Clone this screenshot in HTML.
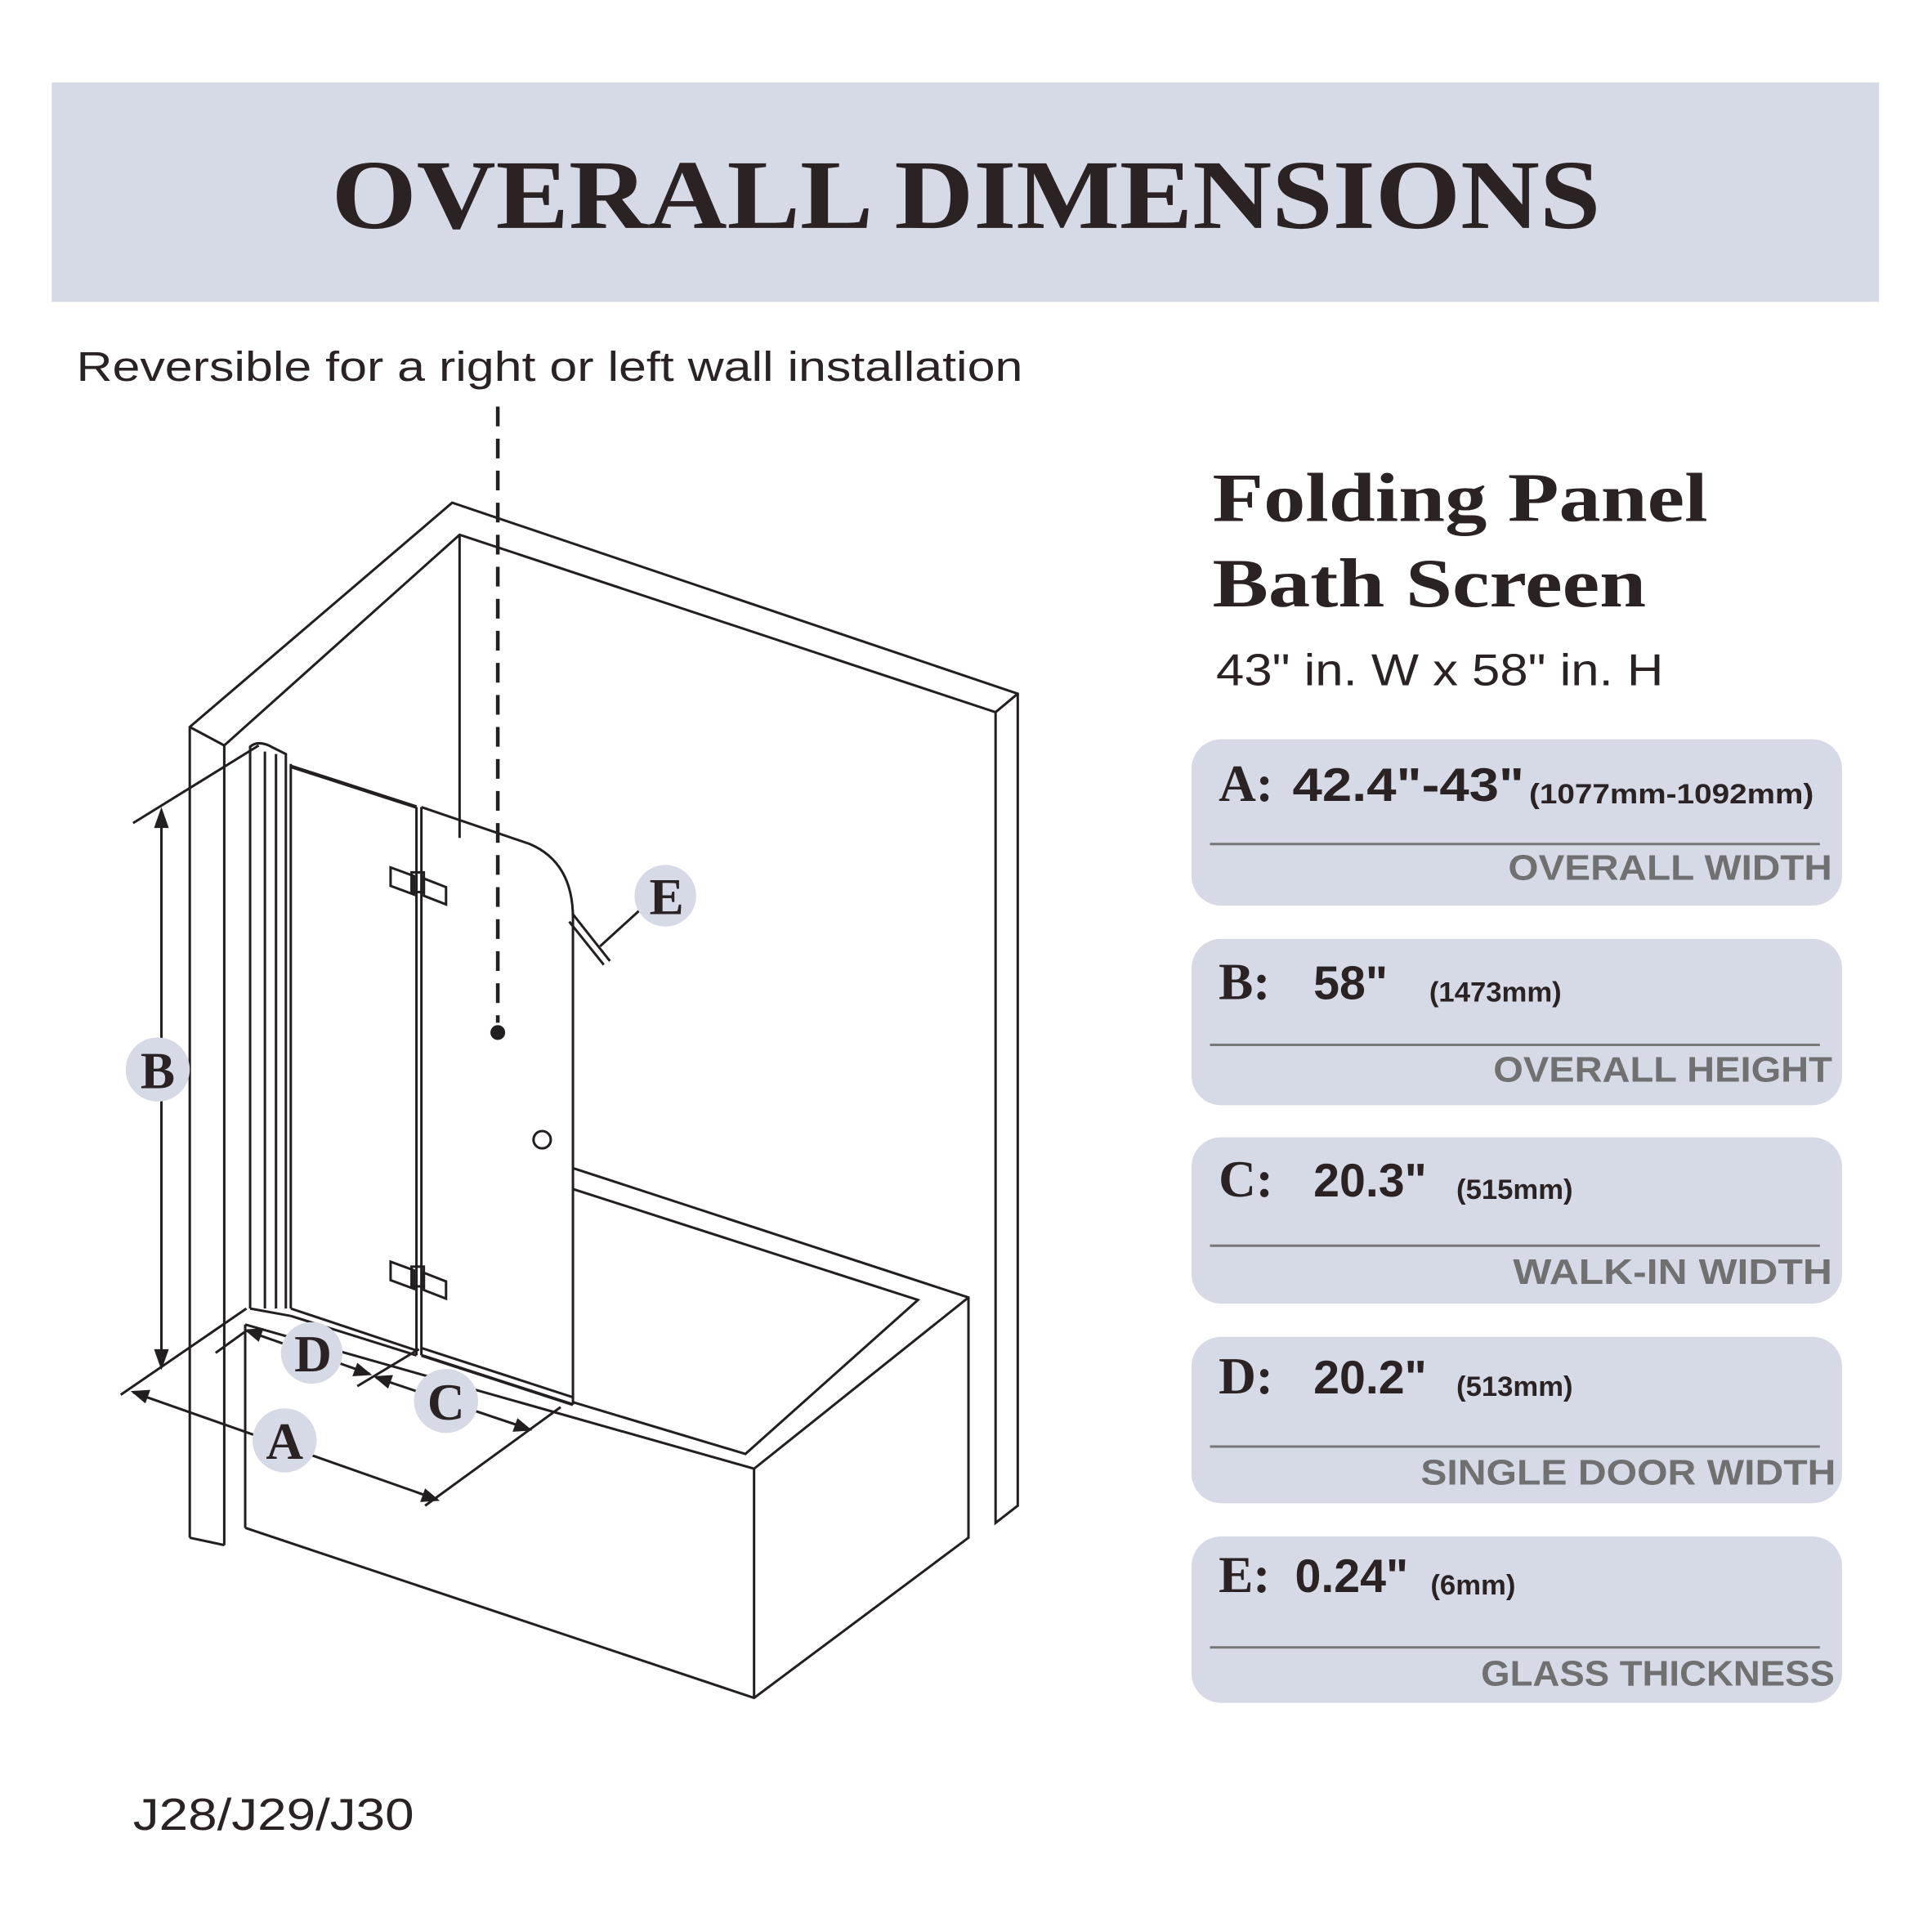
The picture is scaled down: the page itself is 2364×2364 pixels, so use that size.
<!DOCTYPE html>
<html><head><meta charset="utf-8"><style>
html,body{margin:0;padding:0;background:#fff}
svg{display:block}
.sv{font-family:"Liberation Serif",serif;font-weight:bold;fill:#2b2223}
.sn{font-family:"Liberation Sans",sans-serif;fill:#2b2223}
.g{font-family:"Liberation Sans",sans-serif;font-weight:bold;fill:#707070}
</style></head><body>
<svg width="2364" height="2364" viewBox="0 0 1568 1568" xmlns="http://www.w3.org/2000/svg">
<rect x="42" y="67" width="1483" height="178" fill="#d5dae6"/>
<text class="sv" x="784" y="185" font-size="80" text-anchor="middle" textLength="1030" lengthAdjust="spacingAndGlyphs">OVERALL DIMENSIONS</text>
<text class="sn" x="62" y="309" font-size="34" textLength="768" lengthAdjust="spacingAndGlyphs">Reversible for a right or left wall installation</text>

<g fill="none" stroke="#231f20" stroke-width="2">
<!-- walls -->
<polyline points="154,1248 154,590 367,408 826,563 826,1222 808,1236 808,578"/>
<polyline points="182,1254 182,605 373,434 808,578 826,563"/>
<line x1="154" y1="590" x2="182" y2="605"/>
<line x1="154" y1="1248" x2="182" y2="1254"/>
<line x1="373" y1="434" x2="373" y2="680"/>
<!-- tub -->
<polyline points="199,1240 612,1378 786,1248 786,1053 465,948"/>
<polyline points="199,1075 612,1192 786,1053"/>
<line x1="612" y1="1192" x2="612" y2="1378"/>
<line x1="199" y1="1075" x2="199" y2="1240"/>
<polyline points="465,965 745,1055 605,1180 465,1138"/>
<!-- fixed profile -->
<path d="M203,1062 L203,606 Q210,600 222,607 L232,612 L232,1062"/>
<line x1="215" y1="610" x2="215" y2="1062"/>
<line x1="224" y1="612" x2="224" y2="1062"/>
<line x1="236" y1="620" x2="236" y2="1062"/>
<line x1="203" y1="1062" x2="236" y2="1068"/>
<!-- panel 1 -->
<line x1="236" y1="622" x2="338" y2="655" stroke-width="3"/>
<line x1="338" y1="655" x2="338" y2="1100"/>
<line x1="342" y1="655" x2="342" y2="1100"/>
<line x1="236" y1="1062" x2="338" y2="1096"/>
<line x1="236" y1="1068" x2="338" y2="1100"/>
<!-- panel 2 -->
<path d="M342,655 L430,685 Q465,700 465,745 L465,1140"/>
<line x1="342" y1="1100" x2="465" y2="1140" stroke-width="2.5"/>
<line x1="342" y1="1094" x2="465" y2="1134"/>
<!-- hinges -->
<polygon points="317,704 336,711 336,726 317,719"/>
<polygon points="344,713 362,720 362,734 344,727"/>
<rect x="334" y="708" width="10" height="16"/>
<polygon points="317,1024 336,1031 336,1046 317,1039"/>
<polygon points="344,1033 362,1040 362,1054 344,1047"/>
<rect x="334" y="1028" width="10" height="16"/>
<circle cx="440" cy="925" r="7"/>
<!-- dashed -->
<line x1="404" y1="330" x2="404" y2="830" stroke-width="3" stroke-dasharray="16,10"/>
<!-- E leader -->
<line x1="520" y1="738" x2="487" y2="768"/>
<line x1="465" y1="742" x2="495" y2="780"/>
<line x1="462" y1="748" x2="490" y2="783"/>
<!-- B dim -->
<line x1="108" y1="668" x2="210" y2="605"/>
<line x1="98" y1="1132" x2="200" y2="1062"/>
<line x1="131" y1="668" x2="131" y2="1108"/>
<!-- A dim -->
<line x1="108" y1="1130" x2="355" y2="1217"/>
<line x1="345" y1="1222" x2="455" y2="1142"/>
<!-- D dim -->
<line x1="175" y1="1098" x2="200" y2="1080"/>
<line x1="200" y1="1080" x2="300" y2="1115"/>
<line x1="290" y1="1125" x2="340" y2="1095"/>
<!-- C dim -->
<line x1="305" y1="1118" x2="430" y2="1160"/>
</g>
<circle cx="404" cy="838" r="6" fill="#231f20"/>
<g fill="#231f20">
<polygon points="131,655 125,672 137,672"/>
<polygon points="131,1112 125,1095 137,1095"/>
<polygon points="106,1129 122,1128 118,1139"/>
<polygon points="357,1218 341,1219 345,1208"/>
<polygon points="198,1079 214,1078 210,1089"/>
<polygon points="302,1116 286,1117 290,1106"/>
<polygon points="303,1117 319,1116 315,1127"/>
<polygon points="432,1161 416,1162 420,1151"/>
</g>
<g fill="#d5dae6">
<circle cx="128" cy="868" r="26"/><circle cx="540" cy="727" r="25"/>
<circle cx="231" cy="1169" r="26"/><circle cx="253" cy="1098" r="25"/><circle cx="362" cy="1137" r="26"/>
</g>
<g class="sv" font-size="42" text-anchor="middle">
<text x="128" y="883">B</text><text x="541" y="742">E</text><text x="231" y="1184">A</text><text x="254" y="1113">D</text><text x="362" y="1152">C</text>
</g>

<text class="sv" x="984" y="423" font-size="56" textLength="402" lengthAdjust="spacingAndGlyphs">Folding Panel</text>
<text class="sv" x="984" y="492" font-size="56" textLength="352" lengthAdjust="spacingAndGlyphs">Bath Screen</text>
<text class="sn" x="987" y="556" font-size="36" textLength="363" lengthAdjust="spacingAndGlyphs">43" in. W x 58" in. H</text>

<g>
<rect x="967" y="600" width="528" height="135" rx="24" fill="#d5dae6"/>
<line x1="982" y1="685" x2="1477" y2="685" stroke="#777" stroke-width="2"/>
<text class="sv" x="989" y="650" font-size="42">A:</text>
<text class="sn" x="1049" y="650" font-size="38" font-weight="bold" textLength="188" lengthAdjust="spacingAndGlyphs">42.4"-43"</text>
<text class="sn" x="1241" y="652" font-size="23" font-weight="bold" textLength="231" lengthAdjust="spacingAndGlyphs">(1077mm-1092mm)</text>
<text class="g" x="1487" y="714" font-size="29" text-anchor="end" textLength="263" lengthAdjust="spacingAndGlyphs">OVERALL WIDTH</text>

<rect x="967" y="762" width="528" height="135" rx="24" fill="#d5dae6"/>
<line x1="982" y1="848" x2="1477" y2="848" stroke="#777" stroke-width="2"/>
<text class="sv" x="989" y="811" font-size="42">B:</text>
<text class="sn" x="1066" y="811" font-size="38" font-weight="bold">58"</text>
<text class="sn" x="1160" y="813" font-size="23" font-weight="bold">(1473mm)</text>
<text class="g" x="1487" y="878" font-size="29" text-anchor="end" textLength="275" lengthAdjust="spacingAndGlyphs">OVERALL HEIGHT</text>

<rect x="967" y="923" width="528" height="135" rx="24" fill="#d5dae6"/>
<line x1="982" y1="1011" x2="1477" y2="1011" stroke="#777" stroke-width="2"/>
<text class="sv" x="989" y="971" font-size="42">C:</text>
<text class="sn" x="1066" y="971" font-size="38" font-weight="bold">20.3"</text>
<text class="sn" x="1182" y="973" font-size="23" font-weight="bold">(515mm)</text>
<text class="g" x="1487" y="1042" font-size="29" text-anchor="end" textLength="259" lengthAdjust="spacingAndGlyphs">WALK-IN WIDTH</text>

<rect x="967" y="1085" width="528" height="135" rx="24" fill="#d5dae6"/>
<line x1="982" y1="1174" x2="1477" y2="1174" stroke="#777" stroke-width="2"/>
<text class="sv" x="989" y="1131" font-size="42">D:</text>
<text class="sn" x="1066" y="1131" font-size="38" font-weight="bold">20.2"</text>
<text class="sn" x="1182" y="1133" font-size="23" font-weight="bold">(513mm)</text>
<text class="g" x="1490" y="1205" font-size="29" text-anchor="end" textLength="337" lengthAdjust="spacingAndGlyphs">SINGLE DOOR WIDTH</text>

<rect x="967" y="1247" width="528" height="135" rx="24" fill="#d5dae6"/>
<line x1="982" y1="1337" x2="1477" y2="1337" stroke="#777" stroke-width="2"/>
<text class="sv" x="989" y="1292" font-size="42">E:</text>
<text class="sn" x="1051" y="1292" font-size="38" font-weight="bold">0.24"</text>
<text class="sn" x="1161" y="1294" font-size="23" font-weight="bold">(6mm)</text>
<text class="g" x="1489" y="1368" font-size="29" text-anchor="end" textLength="287" lengthAdjust="spacingAndGlyphs">GLASS THICKNESS</text>
</g>

<text class="sn" x="108" y="1485" font-size="36" textLength="228" lengthAdjust="spacingAndGlyphs">J28/J29/J30</text>
</svg>
</body></html>
